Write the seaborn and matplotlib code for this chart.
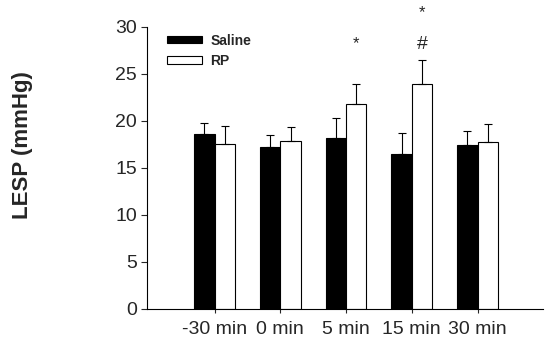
import pandas as pd
import numpy as np
import matplotlib
matplotlib.use('Agg')
import matplotlib.pyplot as plt
import seaborn as sns

# values
times = ['-30 min', '0 min', '5 min', '15 min', '30 min']
saline = [18.6, 17.2, 18.2, 16.5, 17.4]
saline_sem = [1.2, 1.3, 2.1, 2.2, 1.5]
rp = [17.5, 17.9, 21.8, 23.9, 17.7]
rp_sem = [2.0, 1.5, 2.1, 2.6, 2.0]

df = pd.DataFrame({
    'time': times * 2,
    'group': ['Saline'] * 5 + ['RP'] * 5,
    'lesp': saline + rp,
    'sem': saline_sem + rp_sem,
})

sns.set_style('white')
plt.rcParams['font.family'] = ['Liberation Sans', 'DejaVu Sans']

fig = plt.figure(figsize=(5.46, 3.44), dpi=100)
ax = fig.add_axes([0.269, 0.102, 0.726, 0.820])

sns.barplot(data=df, x='time', y='lesp', hue='group', order=times,
            hue_order=['Saline', 'RP'], palette={'Saline': 'black', 'RP': 'white'},
            edgecolor='black', linewidth=0.8, width=0.62, gap=0, ax=ax)

# upper-only error bars on each bar
for cont, grp in zip(ax.containers, ['Saline', 'RP']):
    sub = df[df['group'] == grp]
    xs = [p.get_x() + p.get_width() / 2 for p in cont.patches]
    ax.errorbar(xs, sub['lesp'], yerr=[np.zeros(len(sub)), sub['sem']],
                fmt='none', ecolor='black', elinewidth=0.8, capsize=3, capthick=0.8)

# significance marks
ax.text(2.155, 28.2, '*', ha='center', va='center', fontsize=12)
ax.text(3.155, 28.1, '#', ha='center', va='center', fontsize=14)
ax.text(3.155, 31.5, '*', ha='center', va='center', fontsize=12, clip_on=False)

ax.set_ylim(0, 30)
ax.set_xlim(-1.03, 5.0)
ax.set_yticks([0, 5, 10, 15, 20, 25, 30])
ax.tick_params(axis='y', labelsize=14, length=4, direction='out', left=True, pad=3)
ax.tick_params(axis='x', labelsize=14, length=3, direction='out', bottom=True, pad=6)
ax.set_xlabel('')
ax.set_ylabel('LESP (mmHg)', fontsize=16, fontweight='bold')
ax.yaxis.set_label_coords(-0.288, 0.58)
for s in ['top', 'right']:
    ax.spines[s].set_visible(False)
for s in ['left', 'bottom']:
    ax.spines[s].set_color('black')
    ax.spines[s].set_linewidth(0.8)

leg = ax.legend(loc='upper left', bbox_to_anchor=(0.02, 1.02), frameon=False,
                prop={'weight': 'bold', 'size': 10}, handlelength=2.5,
                handleheight=0.45, labelspacing=0.45, handletextpad=0.6)

fig.savefig('out.png', dpi=100)
